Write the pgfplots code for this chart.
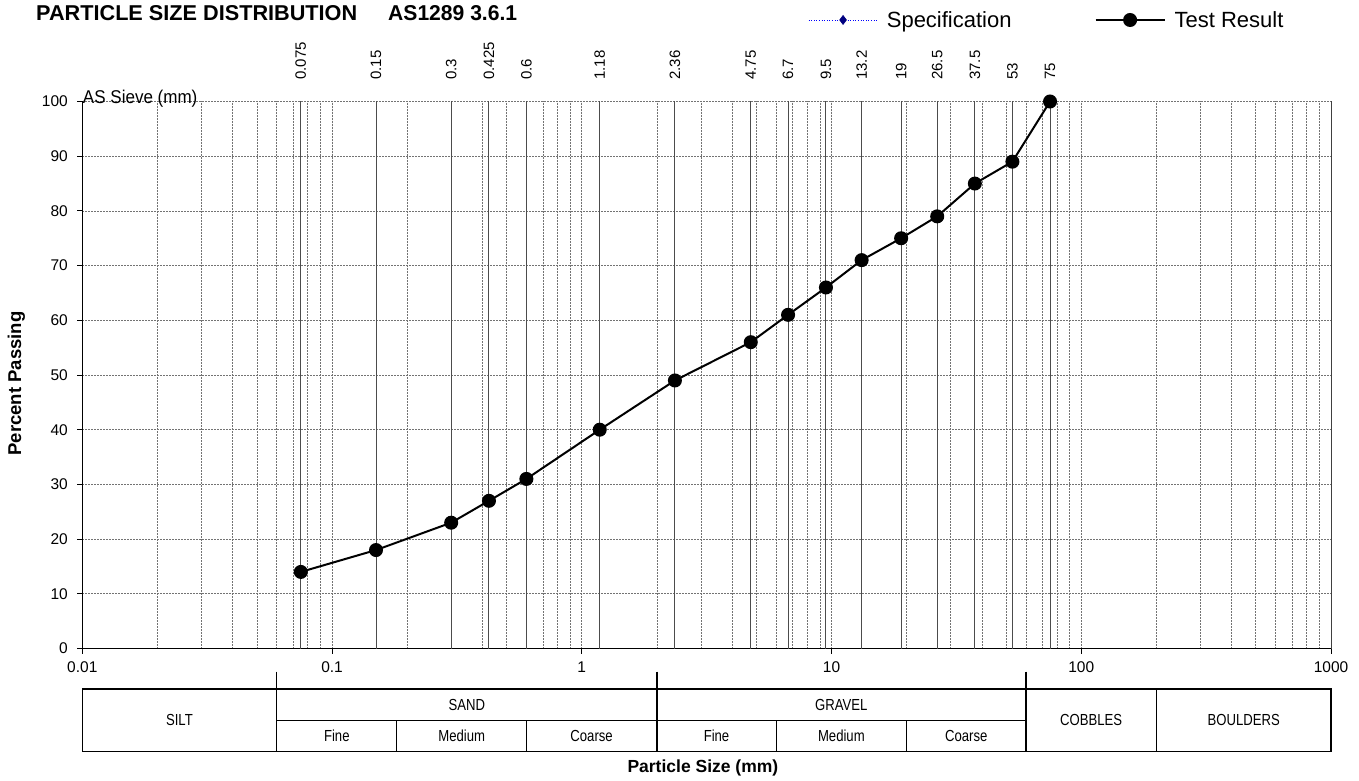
\documentclass[border=0pt]{standalone}
\usepackage{fontspec}
\setmainfont{Liberation Sans}
\newfontfamily\narrowfont[FakeStretch=0.82]{Liberation Sans}
\newfontfamily\semifont[FakeStretch=0.92]{Liberation Sans}
\usepackage{pgfplots}
\pgfplotsset{compat=1.18}
\definecolor{navy}{RGB}{0,0,128}
\begin{document}
\begin{tikzpicture}
\useasboundingbox (0pt,0pt) rectangle (1359pt,780pt);
\node[anchor=north west, inner sep=0pt] at (36pt,775pt) {\resizebox{321pt}{15pt}{\bfseries PARTICLE SIZE DISTRIBUTION}};
\node[anchor=north west, inner sep=0pt] at (388pt,775pt) {\resizebox{129pt}{15pt}{\bfseries AS1289 3.6.1}};
\begin{axis}[
  at={(82.3pt,131.5pt)}, anchor=south west,
  width=1248.7pt, height=547pt, scale only axis,
  xmode=log, xmin=0.01, xmax=1000, ymin=0, ymax=100,
  axis x line*=bottom, axis y line*=left,
  axis line style={black, line width=1.2pt},
  xtick={0.01,0.1,1,10,100,1000},
  xticklabels={0.01,0.1,1,10,100,1000},
  ytick={0,10,...,100},
  tick align=outside,
  major tick length=5pt, minor tick length=0pt,
  tick style={black, line width=0.8pt},
  grid=both,
  major grid style={black!55, line width=0.7pt, dash pattern=on 2pt off 1pt},
  minor grid style={black!55, line width=0.7pt, dash pattern=on 2pt off 1pt},
  /pgf/number format/assume math mode=true,
  ticklabel style={font=\fontsize{15.5}{18}\selectfont},
  xticklabel style={yshift=-4.5pt},
  yticklabel style={xshift=-6pt},
  xlabel={Particle Size (mm)},
  xlabel style={font=\bfseries\fontsize{17.5}{20}\selectfont, at={(axis description cs:0.497,-0.2185)}, anchor=center},
  ylabel={Percent Passing},
  ylabel style={font=\bfseries\fontsize{18.5}{22}\selectfont, at={(axis description cs:-0.0527,0.4845)}, anchor=center},
  clip=false,
  legend columns=2,
  legend style={at={(0.5812,1.149)}, anchor=west, draw=none, fill=none,
    inner xsep=0pt, inner ysep=0pt,
    font=\fontsize{22}{24}\selectfont,
    /tikz/every odd column/.append style={column sep=7pt},
    /tikz/every even column/.append style={column sep=81pt}},
  legend image code/.code={\draw[mark repeat=2, mark phase=2, #1] plot coordinates {(0pt,0pt) (34.5pt,0pt) (69pt,0pt)};},
]
% sieve lines and labels
\pgfplotsinvokeforeach{0.075,0.15,0.3,0.425,0.6,1.18,2.36,4.75,6.7,9.5,13.2,19,26.5,37.5,53,75}{
  \draw[black!70, line width=1pt] (axis cs:#1,0) -- (axis cs:#1,100);
  \node[rotate=90, anchor=west, inner sep=0pt, font=\fontsize{15}{18}\selectfont] at ([yshift=21.5pt]axis cs:#1,100) {#1};
}
\draw[black!75, line width=1pt] (axis cs:1000,0) -- (axis cs:1000,100);
\node[anchor=base west, inner sep=0pt, font=\semifont\fontsize{18.5}{21}\selectfont] at ([xshift=0.5pt, yshift=-1.8pt]axis cs:0.01,100) {AS Sieve (mm)};
% classification table
\draw[black, line width=1.5pt] (axis cs:0.01,-7.40) rectangle (axis cs:1000,-18.87);
\draw[black, line width=1.5pt] (axis cs:0.06,-13.20) -- (axis cs:60,-13.20);
\pgfplotsinvokeforeach{0.06,2,60}{\draw[black, line width=1.5pt] (axis cs:#1,-4.24) -- (axis cs:#1,-18.87);}
\draw[black, line width=1pt] (axis cs:200,-7.40) -- (axis cs:200,-18.87);
\pgfplotsinvokeforeach{0.182,0.6,6,20}{\draw[black, line width=1pt] (axis cs:#1,-13.20) -- (axis cs:#1,-18.87);}
\begin{scope}[every node/.style={font=\narrowfont\fontsize{16}{19}\selectfont, inner sep=0pt, anchor=center}]
\node at (axis cs:0.02449,-13.135) {SILT};
\node at (axis cs:0.3464,-10.30) {SAND};
\node at (axis cs:0.1045,-16.03) {Fine};
\node at (axis cs:0.3305,-16.03) {Medium};
\node at (axis cs:1.095,-16.03) {Coarse};
\node at (axis cs:10.95,-10.30) {GRAVEL};
\node at (axis cs:3.464,-16.03) {Fine};
\node at (axis cs:10.95,-16.03) {Medium};
\node at (axis cs:34.64,-16.03) {Coarse};
\node at (axis cs:109.5,-13.135) {COBBLES};
\node at (axis cs:447.2,-13.135) {BOULDERS};
\end{scope}
\addlegendimage{blue, dotted, line width=0.6pt, mark=diamond*, mark size=4.5pt, mark options={solid, fill=navy, draw=navy}}
\addlegendentry{Specification}
\addplot[black, line width=2pt, mark=*, mark size=6pt, mark options={fill=black}] coordinates {
(0.075,14) (0.15,18) (0.3,23) (0.425,27) (0.6,31) (1.18,40) (2.36,49) (4.75,56) (6.7,61) (9.5,66) (13.2,71) (19,75) (26.5,79) (37.5,85) (53,89) (75,100)};
\addlegendentry{Test Result}
\end{axis}
\end{tikzpicture}
\end{document}
